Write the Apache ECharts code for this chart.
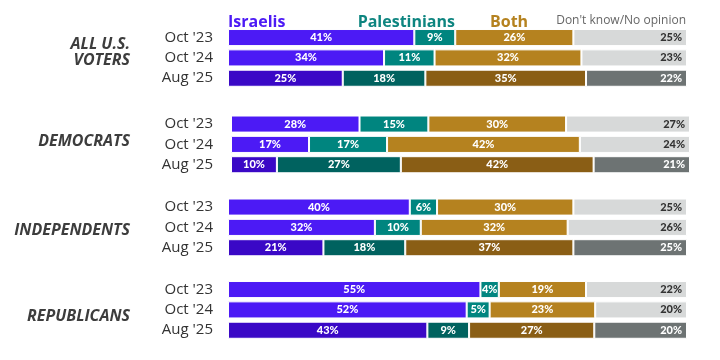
<!DOCTYPE html>
<html><head><meta charset="utf-8">
<script src="https://cdn.jsdelivr.net/npm/echarts@6/dist/echarts.min.js"></script>
<style>html,body{margin:0;padding:0;background:#fff}#c{width:720px;height:360px}</style>
</head><body><div id="c"></div>
<script>
const periods = ["Oct '23", "Oct '24", "Aug '25"];
const groups = ["ALL U.S.\nVOTERS", "DEMOCRATS", "INDEPENDENTS", "REPUBLICANS"];
const seriesNames = ["Israelis", "Palestinians", "Both", "Don't know/No opinion"];
// values per group, per period
const israelis     = [[41, 34, 25], [28, 17, 10], [40, 32, 21], [55, 52, 43]];
const palestinians = [[9, 11, 18],  [15, 17, 27], [6, 10, 18],  [4, 5, 9]];
const both         = [[26, 32, 35], [30, 42, 42], [30, 32, 37], [19, 23, 27]];
const dontKnow     = [[25, 23, 22], [27, 24, 21], [25, 26, 25], [22, 20, 20]];

const lightColors = ['#4c1af5', '#00857f', '#b5821f', '#d7d9d9'];
const darkColors  = ['#3a08c6', '#00625f', '#8a5e15', '#6d7373'];
const allSeries = [israelis, palestinians, both, dontKnow];

const gridTops = [27.4, 113.9, 196.9, 279.4];
const gridLefts = [228, 231, 228, 228];
const gridRights = [33, 30, 33, 33];
const groupLabelY = [52.5, 141.5, 230, 316.5];

const grids = [], xAxes = [], yAxes = [], series = [];
groups.forEach((g, gi) => {
  grids.push({ left: gridLefts[gi], right: gridRights[gi], top: gridTops[gi], height: 61 });
  xAxes.push({ gridIndex: gi, type: 'value', min: 0, max: 100, show: false });
  yAxes.push({
    gridIndex: gi, type: 'category', data: periods, inverse: true,
    axisLine: { show: false }, axisTick: { show: false },
    axisLabel: { margin: gridLefts[gi] - 213, fontSize: 15, color: '#333', fontFamily: 'Open Sans' }
  });
  const totals = periods.map((p, pi) => allSeries.reduce((s, arr) => s + arr[gi][pi], 0));
  allSeries.forEach((arr, si) => {
    series.push({
      type: 'bar', name: seriesNames[si], stack: 'g' + gi, xAxisIndex: gi, yAxisIndex: gi,
      barCategoryGap: '16%',
      itemStyle: { borderColor: '#fff', borderWidth: 1 },
      label: {
        show: true, position: si === 3 ? 'insideRight' : 'inside', distance: 5,
        fontFamily: 'Lato', fontWeight: 900, fontSize: 11, color: '#fff',
        formatter: p => p.data.raw + '%'
      },
      data: arr[gi].map((v, pi) => ({
        value: v / totals[pi] * 100, raw: v,
        itemStyle: { color: pi === 2 ? darkColors[si] : lightColors[si] },
        label: { color: (si === 3 && pi !== 2) ? '#333' : '#fff' }
      }))
    });
  });
});

const graphics = [
  { type: 'text', left: 228, top: 14, style: { text: 'Israelis', fill: '#4c1af5', font: 'bold 16px "Open Sans"' } },
  { type: 'text', right: 720 - 455, top: 14, style: { text: 'Palestinians', fill: '#0e8580', font: 'bold 16px "Open Sans"' } },
  { type: 'text', left: 490, top: 14, style: { text: 'Both', fill: '#b5821f', font: 'bold 16px "Open Sans"' } },
  { type: 'text', right: 720 - 686, top: 15, style: { text: "Don't know/No opinion", fill: '#666', font: '12px "Open Sans"' } }
];
groups.forEach((g, gi) => {
  graphics.push({
    type: 'text', x: 130, y: groupLabelY[gi],
    style: { text: g, fill: '#3d3d3d', font: 'italic bold 16px "Open Sans"', align: 'right', verticalAlign: 'middle', lineHeight: 16 }
  });
});

const chart = echarts.init(document.getElementById('c'));
chart.setOption({
  animation: false,
  grid: grids, xAxis: xAxes, yAxis: yAxes, series: series,
  graphic: graphics
});
</script></body></html>
